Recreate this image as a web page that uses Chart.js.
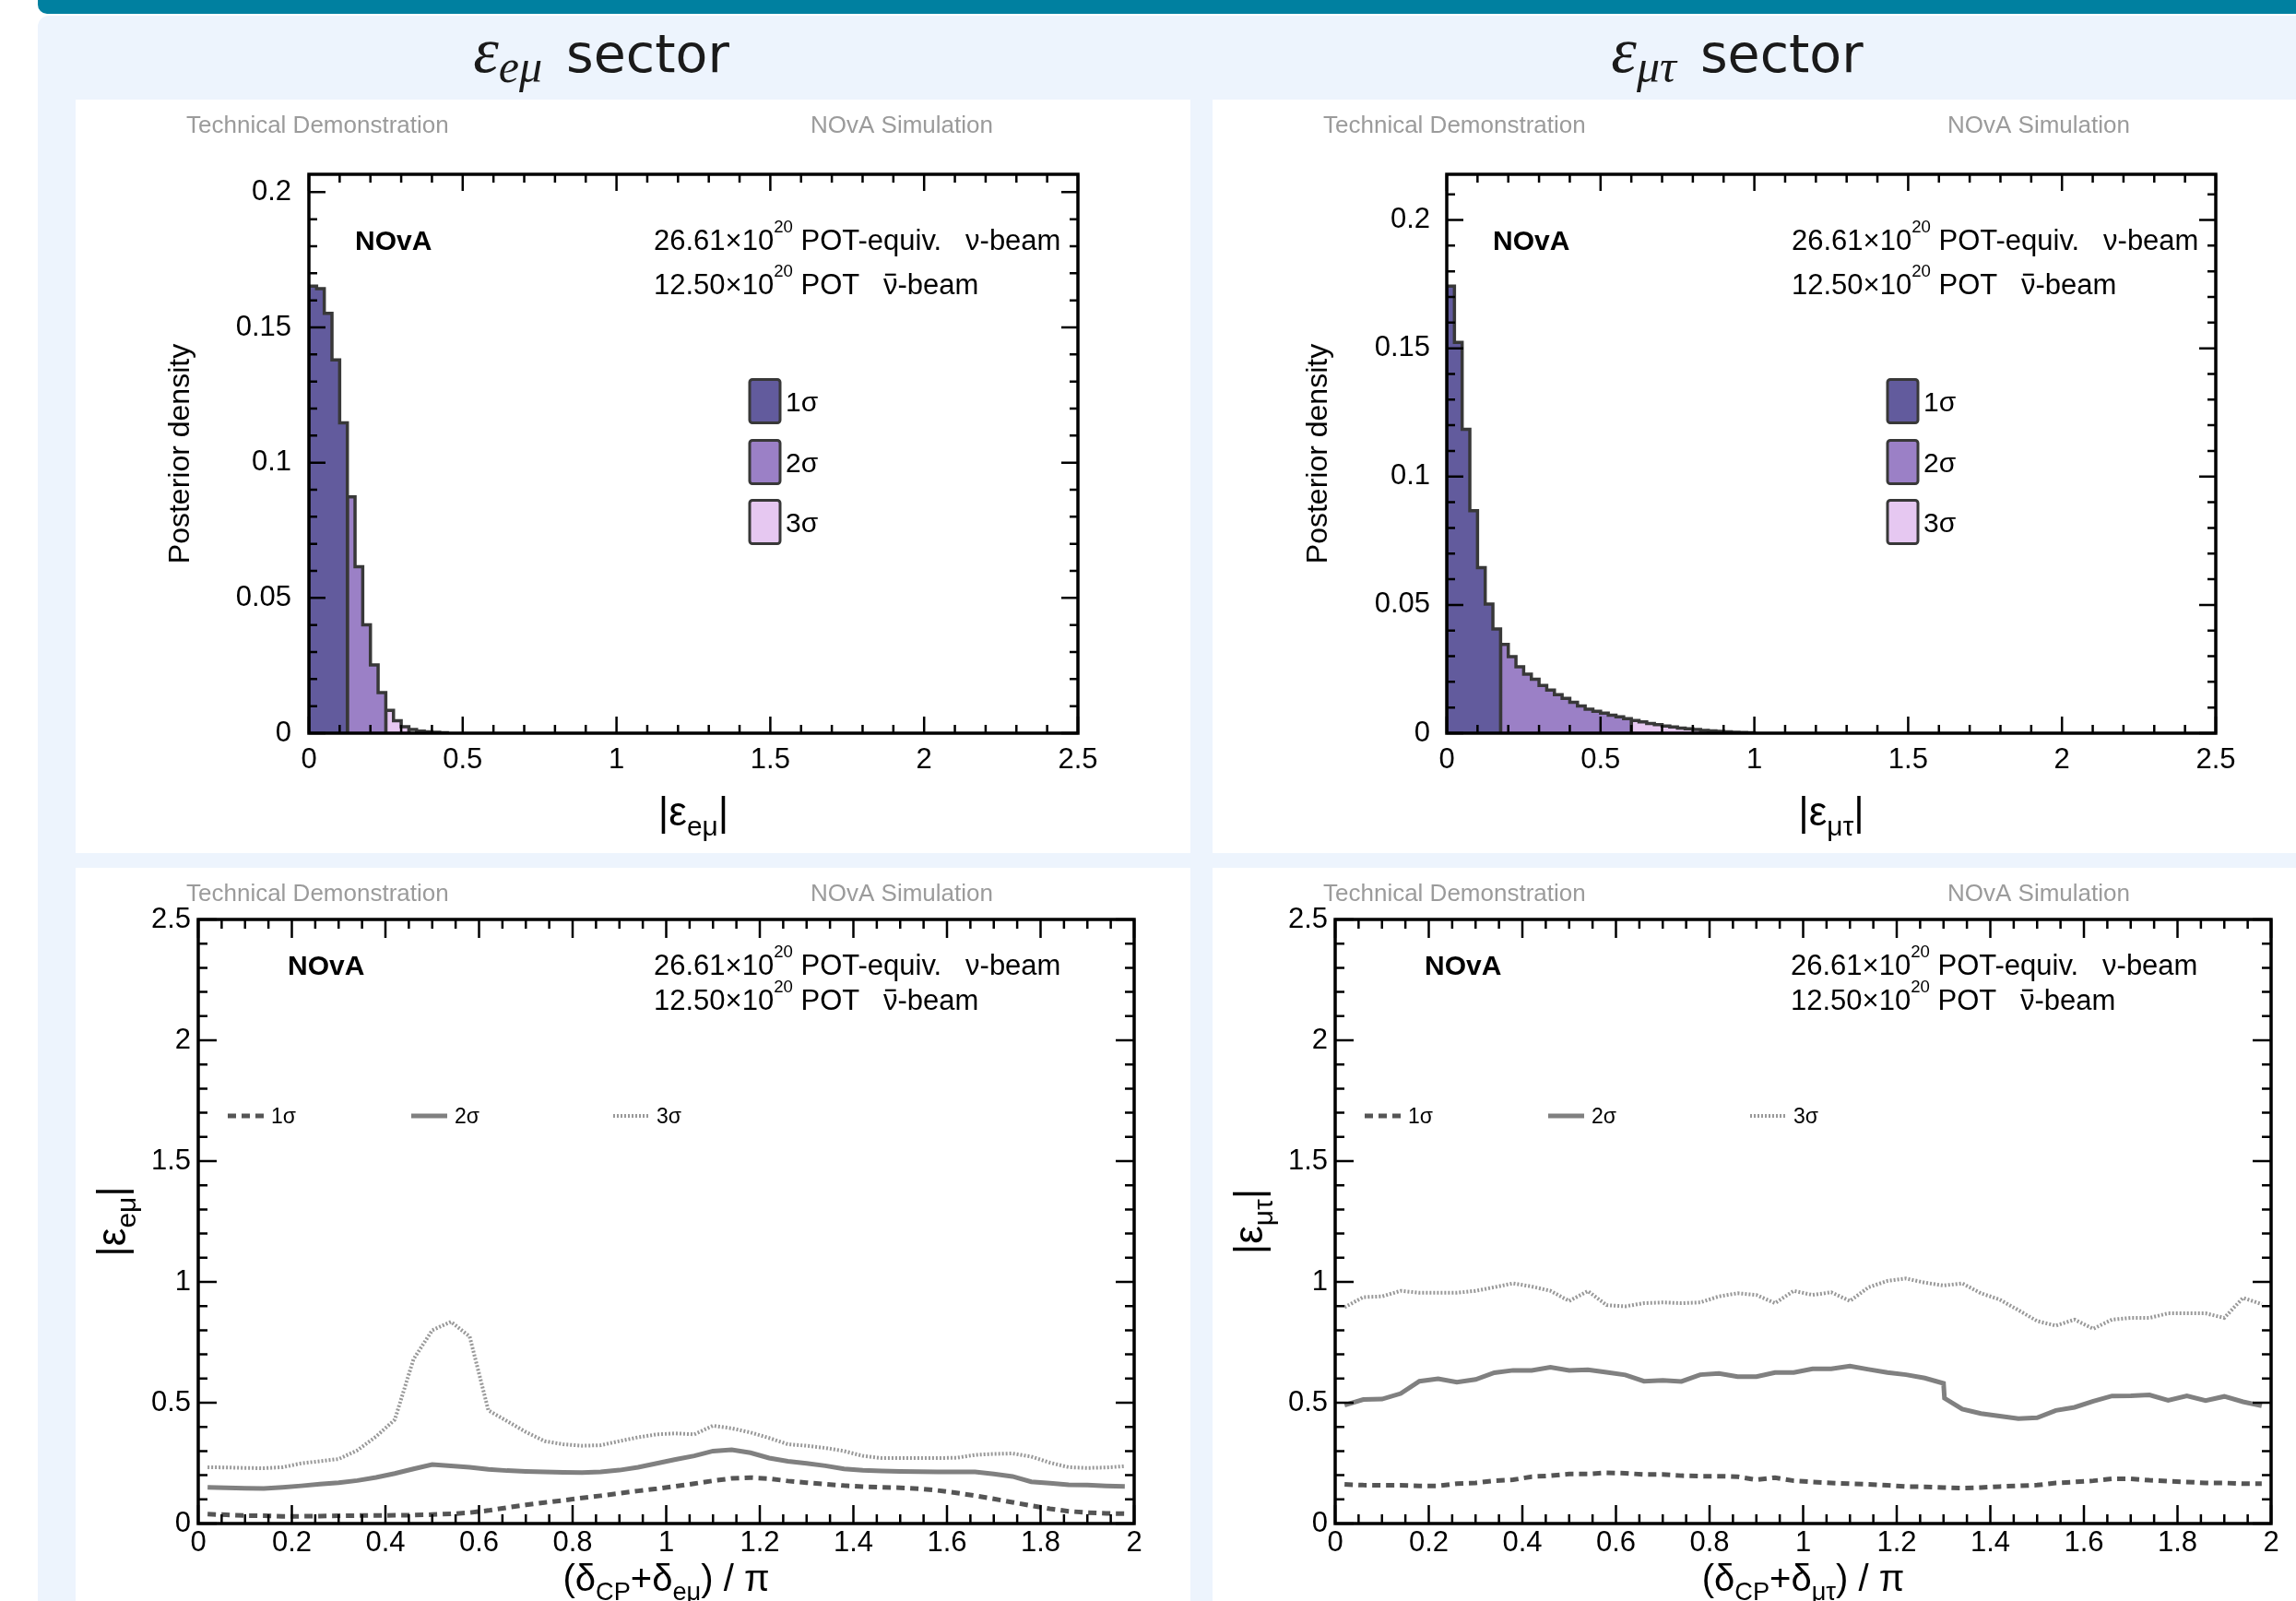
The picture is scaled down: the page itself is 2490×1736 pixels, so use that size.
<!DOCTYPE html>
<html>
<head>
<meta charset="utf-8">
<script src="https://cdn.jsdelivr.net/npm/chart.js@4.4.1/dist/chart.umd.min.js"></script>
<style>
html, body { margin: 0; padding: 0; width: 2490px; height: 1736px; overflow: hidden; background: #fff; }
.topbar { position: absolute; left: 41px; top: 0; width: 2480px; height: 15px; background: #0080a0; border-bottom-left-radius: 10px; }
.sheet { position: absolute; left: 41px; top: 17px; width: 2480px; height: 1740px; background: #edf4fd; border-top-left-radius: 12px; }
.sector { position: absolute; top: 15px; width: 440px; text-align: center; font-family: 'DejaVu Sans', sans-serif; font-size: 57px; color: #1a1a1a; white-space: nowrap; }
.sector .m { font-family: 'Liberation Serif', serif; font-style: italic; }
.sector .eps { font-size: 70px; }
.sector sub { font-size: 50px; vertical-align: -11px; line-height: 0; margin-right: 26px; }
.panel { position: absolute; background: #fff; overflow: hidden; }
.panel canvas { position: absolute; left: 0; top: 0; }
</style>
</head>
<body>
<div class="topbar"></div>
<div class="sheet"></div>
<div class="sector" style="left:432px"><span class="m eps">ε</span><sub class="m">eμ</sub>sector</div>
<div class="sector" style="left:1664px"><span class="m eps">ε</span><sub class="m">μτ</sub>sector</div>

<div class="panel" style="left:82px;top:108px;width:1209px;height:817px"><canvas id="emuPosterior" width="1209" height="817"></canvas></div>
<div class="panel" style="left:1315px;top:108px;width:1209px;height:817px"><canvas id="mutauPosterior" width="1209" height="817"></canvas></div>
<div class="panel" style="left:82px;top:941px;width:1209px;height:795px"><canvas id="emuPhase" width="1209" height="795"></canvas></div>
<div class="panel" style="left:1315px;top:941px;width:1209px;height:795px"><canvas id="mutauPhase" width="1209" height="795"></canvas></div>

<script>
const FONT = "'Liberation Sans', Arial, sans-serif";

// posterior density of |eps|, bins of 0.025 starting at 0
const binWidth = 0.025;
const emuDensity = [0.1653, 0.1643, 0.1552, 0.1380, 0.1147, 0.0874, 0.0615, 0.0401, 0.0252, 0.0150,
    0.0084, 0.0046, 0.0024, 0.0014, 0.0008, 0.0005, 0.0003, 0.0002];
const emuRegionBins = [5, 5, 3];      // bins inside 1σ, 2σ, 3σ; the rest is the tail
const emuDensityMax = 0.2066;

const mutauDensity = [0.1742, 0.1523, 0.1184, 0.0867, 0.0645, 0.0503, 0.0406, 0.0346, 0.0298, 0.0259,
    0.0230, 0.0210, 0.0186, 0.0168, 0.0150, 0.0136, 0.0120, 0.0106, 0.0093, 0.0085,
    0.0078, 0.0070, 0.0064, 0.0057, 0.0049, 0.0044, 0.0038, 0.0033, 0.0028, 0.0024,
    0.0020, 0.0017, 0.0014, 0.0011, 0.0009, 0.0007, 0.0005, 0.0004, 0.0003, 0.0002];
const mutauRegionBins = [7, 17, 10];
const mutauDensityMax = 0.2178;

// allowed |eps| vs (dCP + phase)/pi
const phaseCenters = [0.02, 0.06, 0.10, 0.14, 0.18, 0.22, 0.26, 0.30, 0.34, 0.38,
    0.42, 0.46, 0.50, 0.54, 0.58, 0.62, 0.66, 0.70, 0.74, 0.78,
    0.82, 0.86, 0.90, 0.94, 0.98, 1.02, 1.06, 1.10, 1.14, 1.18,
    1.22, 1.26, 1.30, 1.34, 1.38, 1.42, 1.46, 1.50, 1.54, 1.58,
    1.62, 1.66, 1.70, 1.74, 1.78, 1.82, 1.86, 1.90, 1.94, 1.98];

const emu1sig = [0.039, 0.036, 0.033, 0.032, 0.030, 0.030, 0.031, 0.032, 0.033, 0.033,
    0.034, 0.035, 0.037, 0.040, 0.045, 0.054, 0.066, 0.077, 0.087, 0.096,
    0.106, 0.115, 0.125, 0.135, 0.144, 0.154, 0.165, 0.177, 0.187, 0.190,
    0.186, 0.176, 0.169, 0.163, 0.157, 0.153, 0.150, 0.148, 0.144, 0.137,
    0.127, 0.115, 0.102, 0.088, 0.074, 0.061, 0.051, 0.045, 0.042, 0.041];
const emu2sig = [0.150, 0.148, 0.146, 0.145, 0.150, 0.156, 0.163, 0.169, 0.178, 0.191,
    0.207, 0.226, 0.244, 0.239, 0.233, 0.224, 0.219, 0.216, 0.214, 0.212,
    0.211, 0.214, 0.221, 0.233, 0.249, 0.265, 0.280, 0.300, 0.305, 0.293,
    0.271, 0.258, 0.249, 0.239, 0.226, 0.220, 0.218, 0.216, 0.215, 0.214,
    0.214, 0.214, 0.205, 0.195, 0.173, 0.167, 0.160, 0.159, 0.156, 0.154];
const emu3sig = [0.233, 0.232, 0.230, 0.229, 0.233, 0.249, 0.258, 0.267, 0.303, 0.360,
    0.430, 0.680, 0.800, 0.835, 0.774, 0.468, 0.424, 0.379, 0.341, 0.328,
    0.322, 0.324, 0.341, 0.357, 0.369, 0.373, 0.369, 0.405, 0.394, 0.377,
    0.354, 0.328, 0.322, 0.313, 0.300, 0.280, 0.271, 0.271, 0.271, 0.271,
    0.272, 0.284, 0.288, 0.290, 0.277, 0.252, 0.233, 0.230, 0.232, 0.237];

const mutau1sig = [0.162, 0.159, 0.158, 0.158, 0.156, 0.156, 0.165, 0.168, 0.177, 0.181,
    0.194, 0.198, 0.205, 0.205, 0.210, 0.208, 0.203, 0.203, 0.198, 0.196,
    0.196, 0.194, 0.181, 0.190, 0.177, 0.172, 0.168, 0.165, 0.162, 0.158,
    0.153, 0.152, 0.149, 0.147, 0.149, 0.153, 0.156, 0.159, 0.168, 0.172,
    0.177, 0.185, 0.185, 0.179, 0.175, 0.172, 0.168, 0.168, 0.165, 0.165];
// the 2σ contour folds back near 1.3, so it carries its own x points
const mutau2sigX = [0.02, 0.06, 0.10, 0.14, 0.18, 0.22, 0.26, 0.30, 0.34, 0.38,
    0.42, 0.46, 0.50, 0.54, 0.58, 0.62, 0.66, 0.70, 0.74, 0.78,
    0.82, 0.86, 0.90, 0.94, 0.98, 1.02, 1.06, 1.10, 1.14, 1.18,
    1.22, 1.26, 1.30, 1.302, 1.34, 1.38, 1.42, 1.46, 1.50, 1.54, 1.58,
    1.62, 1.66, 1.70, 1.74, 1.78, 1.82, 1.86, 1.90, 1.94, 1.98];
const mutau2sig = [0.490, 0.513, 0.515, 0.538, 0.589, 0.599, 0.585, 0.596, 0.624, 0.634,
    0.634, 0.647, 0.634, 0.636, 0.626, 0.615, 0.589, 0.593, 0.588, 0.616,
    0.621, 0.608, 0.608, 0.625, 0.625, 0.640, 0.640, 0.652, 0.638, 0.625,
    0.616, 0.602, 0.580, 0.519, 0.474, 0.455, 0.445, 0.434, 0.438, 0.468, 0.481,
    0.506, 0.528, 0.529, 0.532, 0.510, 0.528, 0.509, 0.526, 0.504, 0.487];
const mutau3sig = [0.895, 0.937, 0.940, 0.963, 0.955, 0.955, 0.955, 0.963, 0.978, 0.994,
    0.981, 0.963, 0.921, 0.962, 0.904, 0.899, 0.912, 0.915, 0.912, 0.915,
    0.940, 0.953, 0.946, 0.912, 0.963, 0.946, 0.957, 0.921, 0.978, 1.004,
    1.014, 0.997, 0.985, 0.994, 0.953, 0.927, 0.883, 0.838, 0.819, 0.844,
    0.806, 0.844, 0.851, 0.851, 0.870, 0.870, 0.870, 0.851, 0.934, 0.908];

// axis tick labels
const magnitudeTicks = [0, 0.5, 1, 1.5, 2, 2.5];
const densityTicks = [0, 0.05, 0.1, 0.15, 0.2];
const phaseTicks = [0, 0.2, 0.4, 0.6, 0.8, 1, 1.2, 1.4, 1.6, 1.8, 2];

const sigmaLabels = ['1σ', '2σ', '3σ'];
const regionColors = ['#625b9d', '#9b80c6', '#e6c8f1'];
const contourStyles = [
    { color: '#555555', width: 5, dash: [9, 6] },
    { color: '#808080', width: 5, dash: [] },
    { color: '#999999', width: 4, dash: [2, 2] }
];

// exposure lines; mode 1 = superscript, 2 = overlined (antineutrino)
const potLine1 = [['26.61×10', 0], ['20', 1], [' POT-equiv.   ν-beam', 0]];
const potLine2 = [['12.50×10', 0], ['20', 1], [' POT   ', 0], ['ν', 2], ['-beam', 0]];

const fmt = v => String(Math.round(v * 1000) / 1000);

// text with pieces: mode 1 = sup, -1 = sub, 2 = overline
function richText(ctx, parts, x, y, size, align, weight) {
    const pieces = parts.map(([t, m]) => {
        const fs = (m === 1 || m === -1) ? size * (m > 0 ? 0.6 : 0.68) : size;
        ctx.font = (weight || '') + ' ' + fs + 'px ' + FONT;
        return { t, m, fs, w: ctx.measureText(t).width };
    });
    const total = pieces.reduce((s, p) => s + p.w, 0);
    let cx = align === 'center' ? x - total / 2 : align === 'right' ? x - total : x;
    ctx.textAlign = 'left';
    ctx.textBaseline = 'alphabetic';
    pieces.forEach(p => {
        ctx.font = (weight || '') + ' ' + p.fs + 'px ' + FONT;
        const dy = p.m === 1 ? -size * 0.6 : p.m === -1 ? size * 0.25 : 0;
        ctx.fillText(p.t, cx, y + dy);
        if (p.m === 2) {
            ctx.fillRect(cx + p.w * 0.12, y - size * 0.72, p.w * 0.76, size * 0.07);
        }
        cx += p.w;
    });
}

// ROOT style frame with inward ticks on all four sides
const rootFrame = {
    id: 'rootFrame',
    afterDatasetsDraw(chart, args, o) {
        const { ctx, chartArea: a, scales: { x, y } } = chart;
        ctx.save();
        ctx.strokeStyle = '#000';
        ctx.lineWidth = 2.5;
        ctx.beginPath();
        for (let i = 0; ; i++) {
            const v = x.min + i * o.xMinor;
            if (v > x.max + 1e-9) break;
            const major = Math.abs(v / o.xMajor - Math.round(v / o.xMajor)) < 1e-6;
            const len = major ? o.major : o.minor;
            const px = x.getPixelForValue(v);
            ctx.moveTo(px, a.bottom); ctx.lineTo(px, a.bottom - len);
            ctx.moveTo(px, a.top); ctx.lineTo(px, a.top + len);
        }
        for (let i = 0; ; i++) {
            const v = y.min + i * o.yMinor;
            if (v > y.max + 1e-9) break;
            const major = Math.abs(v / o.yMajor - Math.round(v / o.yMajor)) < 1e-6;
            const len = major ? o.major : o.minor;
            const py = y.getPixelForValue(v);
            ctx.moveTo(a.left, py); ctx.lineTo(a.left + len, py);
            ctx.moveTo(a.right, py); ctx.lineTo(a.right - len, py);
        }
        ctx.stroke();
        ctx.lineWidth = 3.5;
        ctx.strokeRect(a.left, a.top, a.right - a.left, a.bottom - a.top);
        ctx.restore();
    }
};

// labels, titles and legends around each pad
const novaDecor = {
    id: 'novaDecor',
    afterDraw(chart, args, o) {
        const { ctx, chartArea: a } = chart;
        ctx.save();
        ctx.textBaseline = 'alphabetic';
        ctx.textAlign = 'left';
        ctx.fillStyle = '#9b9b9b';
        ctx.font = '26px ' + FONT;
        ctx.fillText('Technical Demonstration', 120, 36);
        ctx.fillText('NOvA Simulation', 797, 36);

        ctx.fillStyle = '#000';
        richText(ctx, [['NOvA', 0]], a.left + o.novaX, a.top + o.line1, 30, 'left', 'bold');
        richText(ctx, potLine1, a.left + o.potX, a.top + o.line1, 31, 'left');
        richText(ctx, potLine2, a.left + o.potX, a.top + o.line2, 31, 'left');

        richText(ctx, o.xTitle, (a.left + a.right) / 2, a.bottom + o.xTitleY, o.xTitleSize, 'center');
        ctx.save();
        ctx.translate(a.left + o.yTitleX, (a.top + a.bottom) / 2);
        ctx.rotate(-Math.PI / 2);
        richText(ctx, o.yTitle, 0, 0, o.yTitleSize, 'center');
        ctx.restore();

        const sets = chart.data.datasets;
        if (o.legend === 'box') {
            sets.filter(d => d.fill).forEach((d, i) => {
                const cy = a.top + o.boxY[i];
                ctx.beginPath();
                ctx.roundRect(a.left + o.boxX, cy - 23.5, 33, 47, 3);
                ctx.fillStyle = d.backgroundColor;
                ctx.fill();
                ctx.lineWidth = 3;
                ctx.strokeStyle = '#383838';
                ctx.stroke();
                ctx.fillStyle = '#000';
                richText(ctx, [[d.label, 0]], a.left + o.boxX + 39, cy + 11, 30, 'left');
            });
        } else {
            sets.forEach((d, i) => {
                const lx = a.left + o.lineX[i], ly = a.top + o.lineY;
                ctx.beginPath();
                ctx.setLineDash(d.borderDash);
                ctx.strokeStyle = d.borderColor;
                ctx.lineWidth = d.borderWidth;
                ctx.moveTo(lx, ly);
                ctx.lineTo(lx + 39, ly);
                ctx.stroke();
                ctx.setLineDash([]);
                ctx.fillStyle = '#000';
                richText(ctx, [[d.label, 0]], lx + 47, ly + 8, 23, 'left');
            });
        }
        ctx.restore();
    }
};

function regionDatasets(density, regionBins) {
    const used = regionBins.reduce((s, n) => s + n, 0);
    const spans = [...regionBins, density.length - used];
    const sets = [];
    let start = 0;
    spans.forEach((n, r) => {
        const pts = [{ x: start * binWidth, y: 0 }];
        for (let i = start; i < start + n; i++) pts.push({ x: i * binWidth, y: density[i] });
        pts.push({ x: (start + n) * binWidth, y: 0 });
        sets.push({
            label: r < 3 ? sigmaLabels[r] : 'tail',
            data: pts,
            stepped: true,
            fill: r < 3 ? 'origin' : false,
            backgroundColor: r < 3 ? regionColors[r] : 'transparent',
            borderColor: '#383838',
            borderWidth: 3.5,
            pointRadius: 0,
            order: r
        });
        start += n;
    });
    return sets;
}

function contourDatasets(xsList, ysList) {
    return ysList.map((ys, i) => ({
        label: sigmaLabels[i],
        data: ys.map((v, j) => ({ x: xsList[i][j], y: v })),
        borderColor: contourStyles[i].color,
        borderWidth: contourStyles[i].width,
        borderDash: contourStyles[i].dash,
        pointRadius: 0,
        tension: 0,
        fill: false
    }));
}

function scales(s) {
    const tickFont = { family: FONT, size: 31 };
    return {
        x: {
            type: 'linear', min: s.xMin, max: s.xMax,
            afterBuildTicks: sc => { sc.ticks = s.xTicks.map(v => ({ value: v })); },
            afterFit: sc => { sc.height = s.xAxisHeight; },
            grid: { display: false, drawTicks: false }, border: { display: false },
            ticks: { font: tickFont, color: '#000', padding: s.xPad, maxRotation: 0, autoSkip: false, callback: fmt }
        },
        y: {
            type: 'linear', min: 0, max: s.yMax,
            afterBuildTicks: sc => { sc.ticks = s.yTicks.map(v => ({ value: v })); },
            afterFit: sc => { sc.width = s.yAxisWidth; },
            grid: { display: false, drawTicks: false }, border: { display: false },
            ticks: { font: tickFont, color: '#000', padding: s.yPad, autoSkip: false, callback: fmt }
        }
    };
}

function makeChart(id, datasets, s, frame, decor) {
    const canvas = document.getElementById(id);
    return new Chart(canvas.getContext('2d'), {
        type: 'line',
        data: { datasets },
        options: {
            responsive: false,
            animation: false,
            events: [],
            layout: { padding: { left: 0, bottom: 0, top: s.top, right: canvas.width - s.right } },
            scales: scales(s),
            plugins: { legend: { display: false }, tooltip: { enabled: false }, rootFrame: frame, novaDecor: decor }
        },
        plugins: [rootFrame, novaDecor]
    });
}

const histFrame = { xMajor: 0.5, xMinor: 0.1, yMajor: 0.05, yMinor: 0.01, major: 18, minor: 9 };
const phaseFrame = { xMajor: 0.2, xMinor: 0.05, yMajor: 0.5, yMinor: 0.1, major: 20, minor: 10 };

const histDecor = (sub) => ({
    novaX: 50, potX: 374, line1: 82, line2: 130,
    xTitle: [['|ε', 0], [sub, -1], ['|', 0]], xTitleY: 100, xTitleSize: 44,
    yTitle: [['Posterior density', 0]], yTitleX: -130, yTitleSize: 32,
    legend: 'box', boxX: 478, boxY: [246, 312, 377]
});
const phaseDecor = (sub) => ({
    novaX: 97, potX: 494, line1: 60, line2: 98,
    xTitle: [['(δ', 0], ['CP', -1], ['+δ', 0], [sub, -1], [') / π', 0]], xTitleY: 73, xTitleSize: 40,
    yTitle: [['|ε', 0], [sub, -1], ['|', 0]], yTitleX: -79, yTitleSize: 44,
    legend: 'line', lineX: [32, 231, 450], lineY: 213
});

makeChart('emuPosterior', regionDatasets(emuDensity, emuRegionBins),
    { xMin: 0, xMax: 2.5, yMax: emuDensityMax, xTicks: magnitudeTicks, yTicks: densityTicks,
      top: 81, right: 1087, yAxisWidth: 253, xAxisHeight: 130, xPad: 11, yPad: 19 },
    histFrame, histDecor('eμ'));

makeChart('mutauPosterior', regionDatasets(mutauDensity, mutauRegionBins),
    { xMin: 0, xMax: 2.5, yMax: mutauDensityMax, xTicks: magnitudeTicks, yTicks: densityTicks,
      top: 81, right: 1088, yAxisWidth: 254, xAxisHeight: 130, xPad: 11, yPad: 18 },
    histFrame, histDecor('μτ'));

makeChart('emuPhase', contourDatasets([phaseCenters, phaseCenters, phaseCenters], [emu1sig, emu2sig, emu3sig]),
    { xMin: 0, xMax: 2, yMax: 2.5, xTicks: phaseTicks, yTicks: magnitudeTicks,
      top: 56, right: 1148, yAxisWidth: 133, xAxisHeight: 84, xPad: 3, yPad: 8 },
    phaseFrame, phaseDecor('eμ'));

makeChart('mutauPhase', contourDatasets([phaseCenters, mutau2sigX, phaseCenters], [mutau1sig, mutau2sig, mutau3sig]),
    { xMin: 0, xMax: 2, yMax: 2.5, xTicks: phaseTicks, yTicks: magnitudeTicks,
      top: 56, right: 1148, yAxisWidth: 133, xAxisHeight: 84, xPad: 3, yPad: 8 },
    phaseFrame, phaseDecor('μτ'));
</script>
</body>
</html>
